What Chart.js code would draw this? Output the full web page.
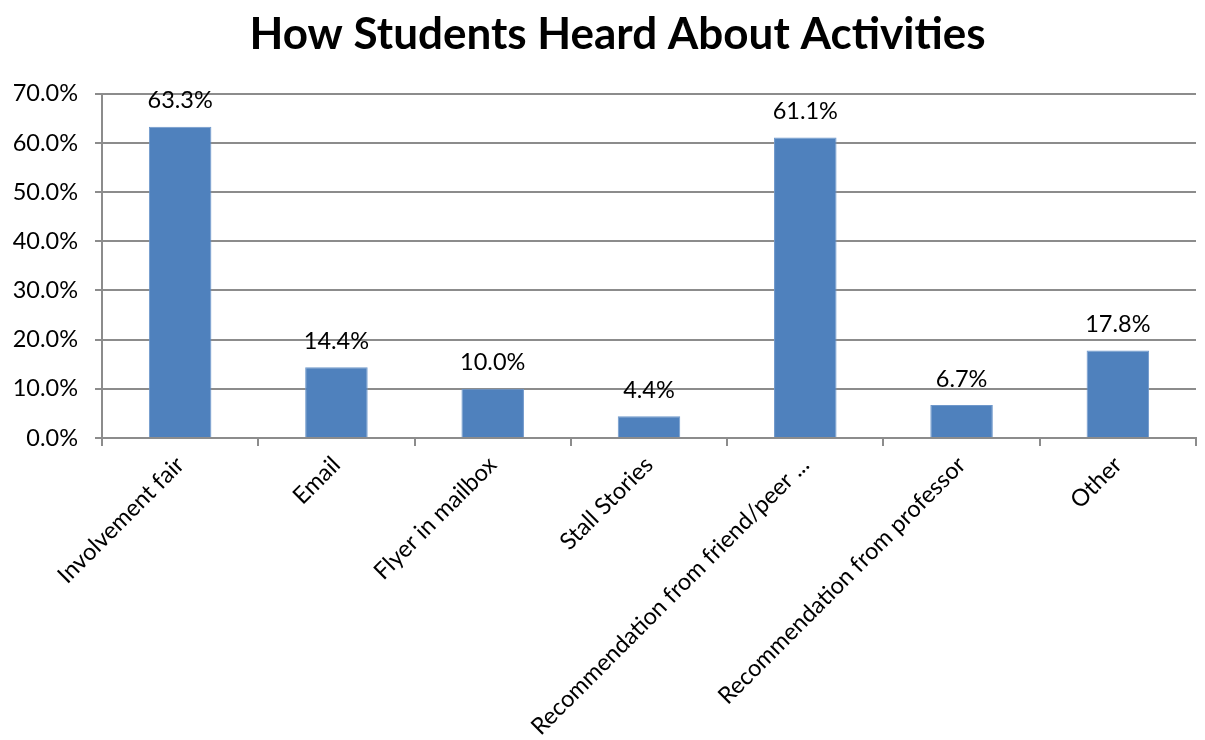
<!DOCTYPE html>
<html>
<head>
<meta charset="utf-8">
<script src="https://cdn.jsdelivr.net/npm/chart.js@4"></script>
<style>
  html, body { margin: 0; padding: 0; background: #fff; }
  #wrap { width: 1205px; height: 740px; position: relative; }
</style>
</head>
<body>
<div id="wrap"><canvas id="c"></canvas></div>
<script>
// Survey responses: share of students per source (percent)
const categories = [
  "Involvement fair",
  "Email",
  "Flyer in mailbox",
  "Stall Stories",
  "Recommendation from friend/peer ...",
  "Recommendation from professor",
  "Other"
];
const shares = [63.3, 14.4, 10.0, 4.4, 61.1, 6.7, 17.8];
const yTicks = [0, 10, 20, 30, 40, 50, 60, 70];

const FONT = "Lato, 'Open Sans', sans-serif";
const TEXT_SIZE = 23.5;
const GRID = "#8c8c8c";

// Writes the value above each bar
const valueLabels = {
  id: "valueLabels",
  afterDatasetsDraw(chart) {
    const ctx = chart.ctx;
    const meta = chart.getDatasetMeta(0);
    ctx.save();
    ctx.font = TEXT_SIZE + "px " + FONT;
    ctx.fillStyle = "#000";
    ctx.textAlign = "center";
    ctx.textBaseline = "middle";
    meta.data.forEach((bar, i) => {
      const v = chart.data.datasets[0].data[i];
      ctx.fillText(v.toFixed(1) + "%", bar.x, bar.y - 26);
    });
    ctx.restore();
  }
};

// Nudges the title's box so it sits a little right of the canvas centre
const titleShift = {
  id: "titleShift",
  afterLayout(chart) {
    if (chart.titleBlock) chart.titleBlock.left += 39;
  }
};

new Chart(document.getElementById("c"), {
  type: "bar",
  data: {
    labels: categories,
    datasets: [{
      data: shares,
      backgroundColor: "#4F81BD",
      borderColor: "#6f98cb",
      borderWidth: 1,
      categoryPercentage: 0.4,
      barPercentage: 1.0
    }]
  },
  options: {
    responsive: true,
    maintainAspectRatio: false,
    animation: false,
    layout: { padding: { left: 0, right: 9, top: 0, bottom: 0 } },
    plugins: {
      legend: { display: false },
      tooltip: { enabled: false },
      title: {
        display: true,
        text: "How Students Heard About Activities",
        color: "#000",
        font: { family: FONT, size: 44, weight: "bold" },
        padding: { top: 8, bottom: 33 }
      }
    },
    scales: {
      x: {
        offset: true,
        grid: {
          display: true,
          offset: true,
          drawOnChartArea: false,
          drawTicks: true,
          tickLength: 8,
          color: GRID,
          lineWidth: 2
        },
        border: { display: true, color: GRID, width: 2 },
        ticks: {
          autoSkip: false,
          minRotation: 45,
          maxRotation: 45,
          padding: 5,
          color: "#000",
          font: { family: FONT, size: TEXT_SIZE }
        },
        afterFit(scale) { scale.height = 302; }
      },
      y: {
        min: 0,
        max: 70,
        afterBuildTicks(scale) {
          scale.ticks = yTicks.map(v => ({ value: v }));
        },
        grid: {
          color: GRID,
          lineWidth: 2,
          drawTicks: true,
          tickLength: 7
        },
        border: { display: true, color: GRID, width: 2 },
        ticks: {
          padding: 17,
          color: "#000",
          font: { family: FONT, size: TEXT_SIZE },
          callback: v => v.toFixed(1) + "%"
        },
        afterFit(scale) { scale.width = 102; }
      }
    }
  },
  plugins: [valueLabels, titleShift]
});
</script>
</body>
</html>
